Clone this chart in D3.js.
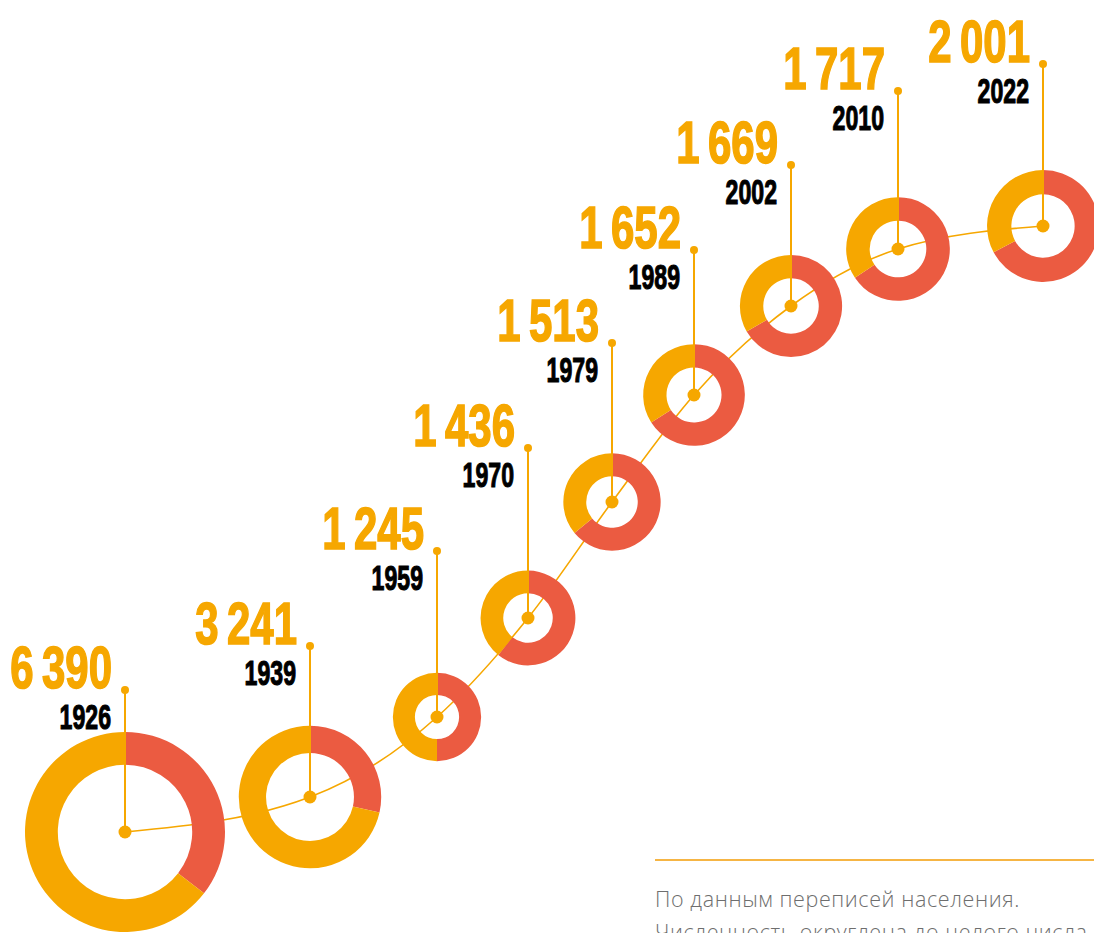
<!DOCTYPE html>
<html>
<head>
<meta charset="utf-8">
<script src="https://cdn.jsdelivr.net/npm/d3@7"></script>
<style>
  body { margin: 0; background: #fff; }
  svg { display: block; }
  .num { font-family: "Liberation Sans", Arial, sans-serif; font-weight: bold; fill: #F6A700; stroke: #F6A700; stroke-width: 1.6px; }
  .year { font-family: "Liberation Sans", Arial, sans-serif; font-weight: bold; fill: #000; stroke: #000; stroke-width: 1.1px; }
  .note { font-family: "Open Sans", Lato, sans-serif; font-weight: 300; fill: #6e6e6e; letter-spacing: 0.6px; }
</style>
</head>
<body>
<div id="chart"></div>
<script>
// data
const years = [1926, 1939, 1959, 1970, 1979, 1989, 2002, 2010, 2022];
const population = [6390, 3241, 1245, 1436, 1513, 1652, 1669, 1717, 2001];
// share of the red segment, clockwise from 12 o'clock
const redShare = [0.355, 0.285, 0.5, 0.608, 0.64, 0.659, 0.667, 0.656, 0.672];
const notes = ["По данным переписей населения.", "Численность округлена до целого числа"];

const data = years.map((y, i) => ({ year: y, value: population[i], red: redShare[i] }));

/** CONSTANTS */
const width = 1094, height = 933;
const orange = "#F6A700", red = "#EB5B41";

/** SCALES */
// the infographic is laid out by hand along a rising path, so the
// layout scales are piecewise by year
const xScale = d3.scaleLinear().domain(years)
  .range([125, 310, 437, 528, 612, 694, 791, 898, 1043]);
const yScale = d3.scaleLinear().domain(years)
  .range([832, 797, 717, 618, 502, 395, 306, 249, 226]);
const stemTop = d3.scaleLinear().domain(years)
  .range([690, 646, 551, 448, 343, 250, 165, 91, 64]);

// ring area follows the population
const rScale = d3.scaleSqrt().domain([0, d3.max(population)]).range([0, 100]);
const holeScale = d3.scaleLinear().domain([44, 101]).range([22, 68]);

const fmt = d3.formatLocale({ thousands: "\u2009", grouping: [3], decimal: ",", currency: ["", ""] }).format(",d");

/** MAIN CODE */
const svg = d3.select("#chart").append("svg")
  .attr("width", width)
  .attr("height", height);

// connecting curve (under the rings)
const line = d3.line()
  .x(d => xScale(d.year))
  .y(d => yScale(d.year))
  .curve(d3.curveMonotoneX);

svg.append("path")
  .datum(data)
  .attr("d", line)
  .attr("fill", "none")
  .attr("stroke", orange)
  .attr("stroke-width", 1.6);

const pie = d3.pie().sort(null).value(d => d);

const rings = svg.selectAll("g.ring")
  .data(data)
  .join("g")
  .attr("class", "ring")
  .attr("transform", d => `translate(${xScale(d.year)},${yScale(d.year)})`);

rings.each(function (d) {
  const R = rScale(d.value);
  const arc = d3.arc().outerRadius(R).innerRadius(holeScale(R));
  d3.select(this).selectAll("path")
    .data(pie([d.red, 1 - d.red]))
    .join("path")
    .attr("d", arc)
    .attr("fill", (p, i) => (i === 0 ? red : orange));
});

// stems
svg.selectAll("line.stem")
  .data(data)
  .join("line")
  .attr("class", "stem")
  .attr("x1", d => xScale(d.year))
  .attr("x2", d => xScale(d.year))
  .attr("y1", d => yScale(d.year))
  .attr("y2", d => stemTop(d.year))
  .attr("stroke", orange)
  .attr("stroke-width", 2);

svg.selectAll("circle.top")
  .data(data)
  .join("circle")
  .attr("class", "top")
  .attr("cx", d => xScale(d.year))
  .attr("cy", d => stemTop(d.year))
  .attr("r", 4)
  .attr("fill", orange);

svg.selectAll("circle.center")
  .data(data)
  .join("circle")
  .attr("class", "center")
  .attr("cx", d => xScale(d.year))
  .attr("cy", d => yScale(d.year))
  .attr("r", 6.5)
  .attr("fill", orange);

// labels
const squeeze = 0.7;
svg.selectAll("text.num")
  .data(data)
  .join("text")
  .attr("class", "num")
  .attr("text-anchor", "end")
  .attr("font-size", 60)
  .attr("transform", d => `translate(${xScale(d.year) - 13},${stemTop(d.year) - 2}) scale(${squeeze},1)`)
  .text(d => fmt(d.value));

svg.selectAll("text.year")
  .data(data)
  .join("text")
  .attr("class", "year")
  .attr("text-anchor", "end")
  .attr("font-size", 35)
  .attr("transform", d => `translate(${xScale(d.year) - 14},${stemTop(d.year) + 39}) scale(0.66,1)`)
  .text(d => d.year);

// footnote
svg.append("line")
  .attr("x1", 655).attr("x2", width)
  .attr("y1", 860).attr("y2", 860)
  .attr("stroke", "#F6B544")
  .attr("stroke-width", 2);

svg.selectAll("text.note")
  .data(notes)
  .join("text")
  .attr("class", "note")
  .attr("x", 655)
  .attr("y", (d, i) => 907 + i * 33)
  .attr("font-size", 21.5)
  .text(d => d);
</script>
</body>
</html>
